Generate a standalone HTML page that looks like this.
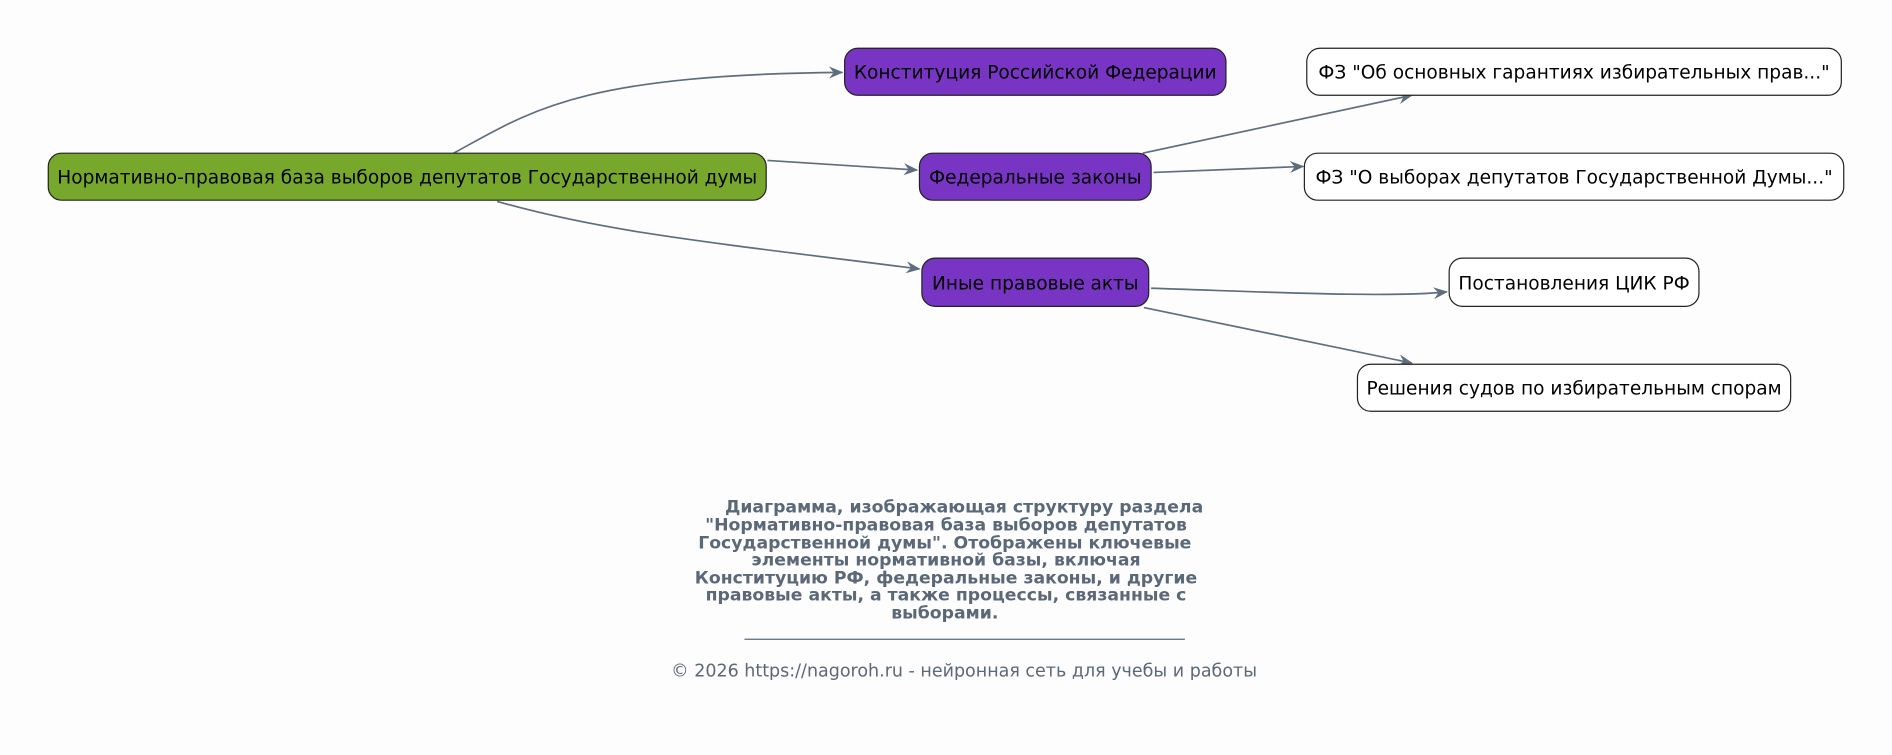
<!DOCTYPE html>
<html><head><meta charset="utf-8"><style>
html,body{margin:0;padding:0;background:#fdfdfd;}
svg{display:block;}
text{font-family:"DejaVu Sans","Liberation Sans",sans-serif;}
</style></head><body>
<svg width="1892" height="755" viewBox="0 0 1568 626" preserveAspectRatio="none" xmlns="http://www.w3.org/2000/svg">
<defs>
<marker id="a" viewBox="0 0 12 10" refX="11" refY="5" markerWidth="12" markerHeight="10" orient="auto" markerUnits="userSpaceOnUse">
<path d="M0,0 L12,5 L0,10 L4,5 Z" fill="#5f6e7e"/>
</marker>
</defs>
<rect width="1568" height="626" fill="#fdfdfd"/>
<g fill="none" stroke="#5f6e7e" stroke-width="1.4" marker-end="url(#a)">
<path d="M376,127 C440,92 480,62 698,60"/>
<path d="M636,133 L760,141"/>
<path d="M412,167 C500,192 580,200 762,223"/>
<path d="M947,127 L1170,79"/>
<path d="M956,143 L1080,138"/>
<path d="M954,239 C1050,242 1150,247 1199,242"/>
<path d="M948,255 L1170,301"/>
</g>
<g stroke="#222" stroke-width="1">
<rect x="40" y="127" width="595" height="39" rx="11" fill="#77a82b"/>
<rect x="700" y="40" width="316" height="39" rx="11" fill="#7835c4"/>
<rect x="762" y="127" width="192" height="39" rx="11" fill="#7835c4"/>
<rect x="764" y="214" width="188" height="40" rx="11" fill="#7835c4"/>
<rect x="1083" y="40" width="443" height="39" rx="11" fill="#fff"/>
<rect x="1081" y="127" width="447" height="39" rx="11" fill="#fff"/>
<rect x="1201" y="214" width="207" height="40" rx="11" fill="#fff"/>
<rect x="1125" y="302" width="359" height="39" rx="11" fill="#fff"/>
</g>
<g font-size="15.4" fill="#000" text-anchor="middle">
<text x="337.5" y="152">Нормативно-правовая база выборов депутатов Государственной думы</text>
<text x="858" y="65">Конституция Российской Федерации</text>
<text x="858" y="152">Федеральные законы</text>
<text x="858" y="240">Иные правовые акты</text>
<text x="1304.5" y="65">ФЗ "Об основных гарантиях избирательных прав..."</text>
<text x="1304.5" y="152">ФЗ "О выборах депутатов Государственной Думы..."</text>
<text x="1304.5" y="240">Постановления ЦИК РФ</text>
<text x="1304.5" y="327">Решения судов по избирательным спорам</text>
</g>
<g font-size="14.3" font-weight="bold" fill="#5a6878" text-anchor="middle">
<text x="799" y="425">Диаграмма, изображающая структуру раздела</text>
<text x="784" y="440">"Нормативно-правовая база выборов депутатов</text>
<text x="783" y="455">Государственной думы". Отображены ключевые</text>
<text x="784" y="469">элементы нормативной базы, включая</text>
<text x="784" y="484">Конституцию РФ, федеральные законы, и другие</text>
<text x="784" y="498">правовые акты, а также процессы, связанные с</text>
<text x="783" y="513">выборами.</text>
</g>
<line x1="617" y1="530" x2="982" y2="530" stroke="#5a6878" stroke-width="1"/>
<text x="799" y="561" font-size="14.5" fill="#5a6878" text-anchor="middle">© 2026 https://nagoroh.ru - нейронная сеть для учебы и работы</text>
</svg>
</body></html>
